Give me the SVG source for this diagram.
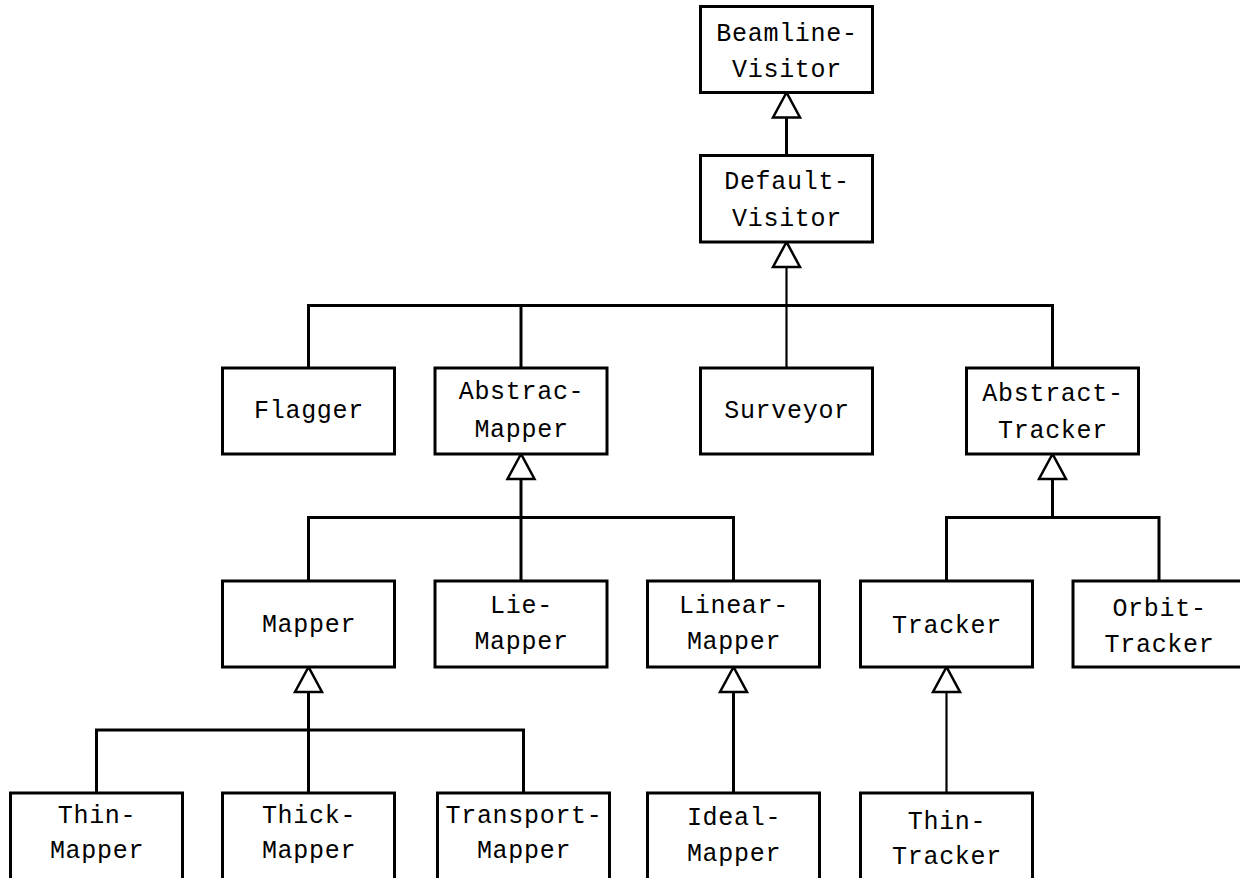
<svg xmlns="http://www.w3.org/2000/svg" width="1240" height="878" viewBox="0 0 1240 878">
  <style>
    .box { fill: #ffffff; stroke: #000000; stroke-width: 3; }
    .lbl { font-family: "Liberation Mono", "DejaVu Sans Mono", monospace; font-size: 25px; letter-spacing: 0.7px; fill: #000000; text-anchor: middle; }
    .wire { fill: none; stroke: #000000; stroke-width: 3; stroke-linecap: butt; }
    .thin { fill: none; stroke: #000000; stroke-width: 2.2; }
    .tri { fill: #ffffff; stroke: #000000; stroke-width: 2.5; stroke-linejoin: miter; }
  </style>
  <defs>
    <!-- inheritance arrowhead: hollow triangle, apex at origin pointing up -->
    <polygon id="gen" class="tri" points="0,0 -13.5,25 13.5,25"/>
  </defs>
  <rect width="1240" height="878" fill="#ffffff"/>

  <g id="connectors">
    <!-- DefaultVisitor -> BeamlineVisitor -->
    <line class="wire" x1="786.5" y1="117" x2="786.5" y2="155.5"/>
    <!-- children of DefaultVisitor -->
    <line class="thin" x1="786.5" y1="267" x2="786.5" y2="368"/>
    <polyline class="wire" points="308.5,368 308.5,305.5 1052.5,305.5 1052.5,368"/>
    <line class="wire" x1="521" y1="305.5" x2="521" y2="368"/>
    <!-- children of AbstracMapper -->
    <line class="wire" x1="521" y1="479" x2="521" y2="581"/>
    <polyline class="wire" points="308.5,581 308.5,517.5 733.5,517.5 733.5,581"/>
    <!-- children of AbstractTracker -->
    <line class="wire" x1="1052.5" y1="479" x2="1052.5" y2="517.5"/>
    <polyline class="wire" points="946.5,581 946.5,517.5 1159,517.5 1159,581"/>
    <!-- children of Mapper -->
    <line class="wire" x1="308.5" y1="692" x2="308.5" y2="793"/>
    <polyline class="wire" points="96.5,793 96.5,730 523.5,730 523.5,793"/>
    <!-- IdealMapper -> LinearMapper -->
    <line class="wire" x1="733.5" y1="692" x2="733.5" y2="793"/>
    <!-- ThinTracker -> Tracker -->
    <line class="thin" x1="946.5" y1="692" x2="946.5" y2="793"/>
    <!-- arrowheads -->
    <use href="#gen" x="786.5" y="92.5"/>
    <use href="#gen" x="786.5" y="242"/>
    <use href="#gen" x="521" y="454"/>
    <use href="#gen" x="1052.5" y="454"/>
    <use href="#gen" x="308.5" y="667"/>
    <use href="#gen" x="733.5" y="667"/>
    <use href="#gen" x="946.5" y="667"/>
  </g>

  <g id="BeamlineVisitor">
    <rect class="box" x="700.5" y="6.5" width="172" height="86"/>
    <text class="lbl" x="787" y="41">Beamline-</text>
    <text class="lbl" x="787" y="77">Visitor</text>
  </g>
  <g id="DefaultVisitor">
    <rect class="box" x="700.5" y="155.5" width="172" height="86.5"/>
    <text class="lbl" x="787" y="189">Default-</text>
    <text class="lbl" x="787" y="226">Visitor</text>
  </g>

  <g id="Flagger">
    <rect class="box" x="222.5" y="368" width="172" height="86"/>
    <text class="lbl" x="309" y="418">Flagger</text>
  </g>
  <g id="AbstracMapper">
    <rect class="box" x="435" y="368" width="172" height="86"/>
    <text class="lbl" x="521.5" y="399">Abstrac-</text>
    <text class="lbl" x="521.5" y="437">Mapper</text>
  </g>
  <g id="Surveyor">
    <rect class="box" x="700.5" y="368" width="172" height="86"/>
    <text class="lbl" x="787" y="418">Surveyor</text>
  </g>
  <g id="AbstractTracker">
    <rect class="box" x="966.5" y="368" width="172" height="86"/>
    <text class="lbl" x="1053" y="401">Abstract-</text>
    <text class="lbl" x="1053" y="438">Tracker</text>
  </g>

  <g id="Mapper">
    <rect class="box" x="222.5" y="581" width="172" height="86"/>
    <text class="lbl" x="309" y="632">Mapper</text>
  </g>
  <g id="LieMapper">
    <rect class="box" x="435" y="581" width="172" height="86"/>
    <text class="lbl" x="521.5" y="613">Lie-</text>
    <text class="lbl" x="521.5" y="649">Mapper</text>
  </g>
  <g id="LinearMapper">
    <rect class="box" x="647.5" y="581" width="172" height="86"/>
    <text class="lbl" x="734" y="613">Linear-</text>
    <text class="lbl" x="734" y="649">Mapper</text>
  </g>
  <g id="Tracker">
    <rect class="box" x="860.5" y="581" width="172" height="86"/>
    <text class="lbl" x="947" y="633">Tracker</text>
  </g>
  <g id="OrbitTracker">
    <rect class="box" x="1073" y="581" width="172" height="86"/>
    <text class="lbl" x="1159.5" y="616">Orbit-</text>
    <text class="lbl" x="1159.5" y="652">Tracker</text>
  </g>

  <g id="ThinMapper">
    <rect class="box" x="10.5" y="793" width="172" height="100"/>
    <text class="lbl" x="97" y="823">Thin-</text>
    <text class="lbl" x="97" y="858">Mapper</text>
  </g>
  <g id="ThickMapper">
    <rect class="box" x="222.5" y="793" width="172" height="100"/>
    <text class="lbl" x="309" y="823">Thick-</text>
    <text class="lbl" x="309" y="858">Mapper</text>
  </g>
  <g id="TransportMapper">
    <rect class="box" x="437.5" y="793" width="172" height="100"/>
    <text class="lbl" x="524" y="823">Transport-</text>
    <text class="lbl" x="524" y="858">Mapper</text>
  </g>
  <g id="IdealMapper">
    <rect class="box" x="647.5" y="793" width="172" height="100"/>
    <text class="lbl" x="734" y="825">Ideal-</text>
    <text class="lbl" x="734" y="861">Mapper</text>
  </g>
  <g id="ThinTracker">
    <rect class="box" x="860.5" y="793" width="172" height="100"/>
    <text class="lbl" x="947" y="829">Thin-</text>
    <text class="lbl" x="947" y="864">Tracker</text>
  </g>
</svg>
